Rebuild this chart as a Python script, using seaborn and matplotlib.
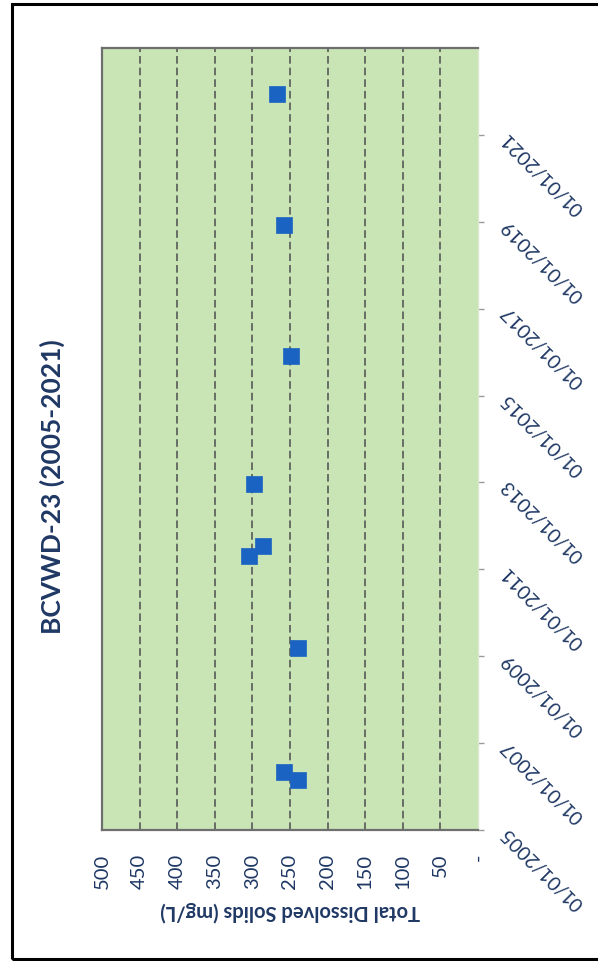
import pandas as pd
import matplotlib
matplotlib.use("Agg")
import matplotlib.pyplot as plt
import matplotlib.patches as patches
import seaborn as sns

# Datos del pozo BCVWD-23 (fecha de muestreo, TDS en mg/L)
sample_dates = ["2006-02-25", "2006-05-01", "2009-03-15", "2011-04-25", "2011-07-20",
                "2012-12-15", "2015-12-01", "2018-12-05", "2021-12-10"]
tds_values = [240, 258, 240, 305, 286, 298, 249, 258, 267]

value_ticks = [500, 450, 400, 350, 300, 250, 200, 150, 100, 50, 0]
value_labels = ["500", "450", "400", "350", "300", "250", "200", "150", "100", "50", "-"]
tick_years = [2005, 2007, 2009, 2011, 2013, 2015, 2017, 2019, 2021]

title = "BCVWD-23 (2005-2021)"
value_label = "Total Dissolved Solids (mg/L)"

df = pd.DataFrame({"fecha": pd.to_datetime(sample_dates), "tds": tds_values})

sns.set_style("white")
plt.rcParams["font.family"] = ["Lato", "DejaVu Sans"]

navy = "#1f3864"
green = "#c9e5b6"

fig = plt.figure(figsize=(5.98, 9.61), dpi=100)
ax = fig.add_axes([102 / 598, 1 - 830 / 961, 376 / 598, 782 / 961])
ax.set_facecolor(green)

# lineas de guia discontinuas
for v in value_ticks[1:-1]:
    ax.axvline(v, color="#4d4d4d", lw=1.1, dashes=(5, 2.6), zorder=1)

sns.scatterplot(data=df, x="tds", y="fecha", marker="s", s=120, color="#1b63c2",
                edgecolor="#1b63c2", linewidth=0.5, ax=ax, zorder=3, legend=False)

ax.set_xlim(500, 0)
ax.set_ylim(pd.Timestamp("2005-01-01"), pd.Timestamp("2023-01-01"))

# eje de valores (abajo)
ax.set_xticks(value_ticks)
ax.set_xticklabels(value_labels, rotation=90, color=navy, fontsize=14.5, va="top", ha="center")
ax.tick_params(axis="x", length=0, pad=17)
ax.set_xlabel(value_label, rotation=180, color=navy, fontsize=14.5, fontweight="bold", va="center")
ax.xaxis.set_label_coords(0.5, -0.1036)

# eje de fechas (derecha)
tick_dates = [pd.Timestamp(f"{y}-01-01") for y in tick_years]
ax.yaxis.tick_right()
ax.set_yticks(tick_dates)
ax.set_yticklabels([d.strftime("%m/%d/%Y") for d in tick_dates], rotation=135, color=navy,
                   fontsize=14, ha="right", va="center", rotation_mode="anchor")
ax.tick_params(axis="y", which="both", length=4, width=1, color="#9a9a9a", pad=15, right=True, left=False)
ax.set_ylabel("")

for side in ["left", "top", "bottom"]:
    ax.spines[side].set_color("#6e6e6e")
    ax.spines[side].set_linewidth(1.6)
ax.spines["right"].set_color("#d9e8cf")
ax.spines["right"].set_linewidth(1)

fig.text(52 / 598, 1 - 487 / 961, title, rotation=90, ha="center", va="center",
         fontsize=19, fontweight="bold", color=navy)

# marco negro exterior
fig.patches.append(patches.Rectangle((12 / 598, 2 / 961), 1.2, 955 / 961, transform=fig.transFigure,
                                     fill=False, edgecolor="black", linewidth=2.2))

fig.savefig("out.png", dpi=100)
